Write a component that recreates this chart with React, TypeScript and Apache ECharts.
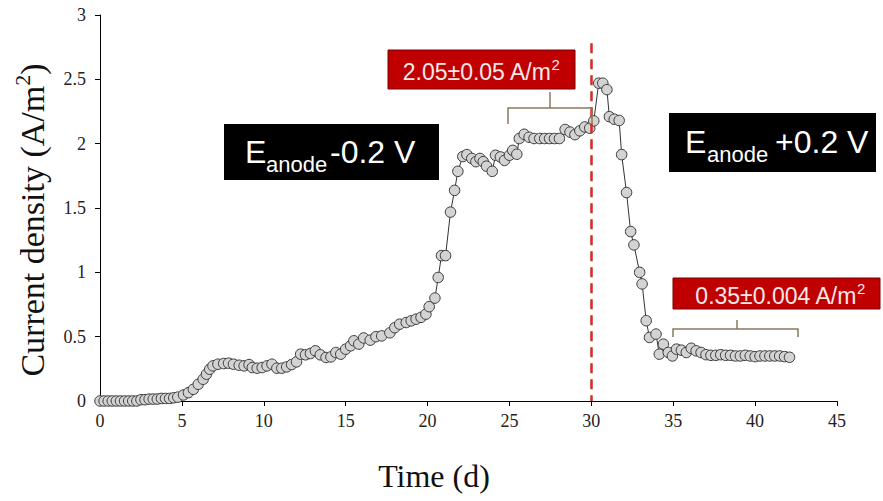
import React, { useEffect, useRef } from "react";
import * as echarts from "echarts";

const timeDays: number[] = [
  0, 0.25, 0.5, 0.75, 1, 1.25, 1.5, 1.75, 2, 2.25, 2.5, 2.75, 3, 3.25, 3.5, 3.75, 4, 4.25, 4.5, 4.75,
  5.1, 5.4, 5.7, 6.0, 6.3, 6.5, 6.7, 6.9, 7.2, 7.55, 7.85, 8.15, 8.5, 8.8, 9.1, 9.3, 9.6, 9.9, 10.2, 10.5,
  10.8, 11.1, 11.4, 11.7, 12.0, 12.25, 12.55, 12.85, 13.15, 13.45, 13.8, 14.1, 14.4, 14.7, 15.0, 15.3, 15.5, 15.8, 16.1, 16.5,
  16.85, 17.2, 17.7, 18.0, 18.3, 18.7, 19.0, 19.3, 19.6, 19.9, 20.1, 20.45, 20.65, 20.85, 21.1, 21.4, 21.65, 21.85, 22.15, 22.4,
  22.7, 22.95, 23.2, 23.4, 23.6, 23.95, 24.15, 24.45, 24.7, 25.0, 25.2, 25.45, 25.6, 25.9, 26.2, 26.5, 26.85, 27.15, 27.45, 27.75,
  28.05, 28.4, 28.7, 29.0, 29.3, 29.6, 29.9, 30.15, 30.45, 30.7, 30.95, 31.1, 31.4, 31.7, 31.85, 32.15, 32.4, 32.6, 32.95, 33.1,
  33.35, 33.55, 33.95, 34.15, 34.4, 34.7, 34.95, 35.2, 35.5, 35.8, 36.1, 36.4, 36.7, 37.0, 37.3, 37.6, 37.9, 38.2, 38.5, 38.8,
  39.1, 39.4, 39.7, 40.0, 40.3, 40.6, 40.9, 41.2, 41.5, 41.8, 42.1,
];

const currentDensity: number[] = [
  0, 0, 0, 0, 0, 0, 0, 0, 0, 0, 0.01, 0.01, 0.015, 0.015, 0.015, 0.02, 0.02, 0.02, 0.025, 0.03,
  0.047, 0.065, 0.091, 0.13, 0.169, 0.208, 0.247, 0.273, 0.286, 0.291, 0.294, 0.286, 0.278, 0.273, 0.283, 0.26, 0.255, 0.26, 0.273, 0.286,
  0.255, 0.255, 0.265, 0.283, 0.304, 0.364, 0.359, 0.369, 0.39, 0.359, 0.338, 0.343, 0.377, 0.364, 0.403, 0.429, 0.468, 0.442, 0.49, 0.473,
  0.5, 0.506, 0.53, 0.57, 0.597, 0.61, 0.623, 0.636, 0.65, 0.675, 0.733, 0.8, 0.96, 1.13, 1.13, 1.468, 1.637, 1.785, 1.9, 1.915,
  1.885, 1.86, 1.885, 1.86, 1.825, 1.785, 1.91, 1.897, 1.87, 1.91, 1.948, 1.918, 2.04, 2.073, 2.05, 2.04, 2.04, 2.04, 2.04, 2.04,
  2.04, 2.11, 2.09, 2.07, 2.1, 2.13, 2.12, 2.177, 2.47, 2.47, 2.42, 2.21, 2.19, 2.18, 1.915, 1.62, 1.317, 1.213, 1.0, 0.91,
  0.624, 0.494, 0.52, 0.364, 0.442, 0.377, 0.35, 0.403, 0.395, 0.377, 0.41, 0.39, 0.377, 0.36, 0.355, 0.355, 0.36, 0.355, 0.355, 0.35,
  0.35, 0.355, 0.35, 0.345, 0.35, 0.35, 0.35, 0.35, 0.35, 0.345, 0.34,
];

const xTicks = { min: 0, max: 45, interval: 5 };
const yTicks = { min: 0, max: 3, interval: 0.5 };
const switchDay = 30;
const switchLineTop = 2.78;

const axisTitleX = "Time (d)";
const axisTitleYMain = "Current density (A/m";
const meanBefore = "2.05±0.05 A/m";
const meanAfter = "0.35±0.004 A/m";

export default function App() {
  const ref = useRef<HTMLDivElement>(null);

  useEffect(() => {
    if (!ref.current) return;
    const chart = echarts.init(ref.current, undefined, { renderer: "svg" });
    const data = timeDays.map((t, i) => [t, currentDensity[i]]);
    const serif = "'Liberation Serif', 'Times New Roman', serif";
    const sans = "'Liberation Sans', Arial, sans-serif";
    const bracketColor = "#8a7a5c";
    const boxTextColor = "#f6e8e8";

    const boxRich = {
      a: { fontFamily: sans, fontSize: 23, lineHeight: 26, fill: boxTextColor, color: boxTextColor, verticalAlign: "bottom" },
      s: { fontFamily: sans, fontSize: 15, lineHeight: 26, fill: boxTextColor, color: boxTextColor, verticalAlign: "top" },
    };

    chart.setOption({
      animation: false,
      backgroundColor: "#ffffff",
      grid: { left: 100, right: 46, top: 15, bottom: 100, containLabel: false },
      xAxis: {
        type: "value",
        min: xTicks.min,
        max: xTicks.max,
        interval: xTicks.interval,
        axisLine: { show: true, lineStyle: { color: "#000", width: 1 } },
        axisTick: { show: true, inside: false, length: 5, lineStyle: { color: "#000" } },
        axisLabel: { color: "#222", fontFamily: serif, fontSize: 18, margin: 11 },
        splitLine: { show: false },
      },
      yAxis: {
        type: "value",
        min: yTicks.min,
        max: yTicks.max,
        interval: yTicks.interval,
        axisLine: { show: true, lineStyle: { color: "#000", width: 1 } },
        axisTick: { show: true, inside: false, length: 5, lineStyle: { color: "#000" } },
        axisLabel: { color: "#222", fontFamily: serif, fontSize: 18, margin: 14 },
        splitLine: { show: false },
      },
      series: [
        {
          type: "line",
          data,
          symbol: "circle",
          symbolSize: 10.5,
          showAllSymbol: true,
          lineStyle: { color: "#333", width: 1 },
          itemStyle: { color: "#d3d3d3", borderColor: "#3a3a3a", borderWidth: 1 },
          markLine: {
            silent: true,
            symbol: ["none", "none"],
            label: { show: false },
            lineStyle: { color: "#d42a2a", type: [10, 6], width: 2.5 },
            data: [[{ coord: [switchDay, switchLineTop] }, { coord: [switchDay, 0] }]],
          },
          z: 3,
        },
      ],
      graphic: [
        // axis titles
        {
          type: "text",
          x: 30,
          y: 220,
          rotation: Math.PI / 2,
          style: {
            text: "{a|" + axisTitleYMain + "}{s|2}{a|)}",
            align: "center",
            verticalAlign: "middle",
            rich: {
              a: { fontFamily: serif, fontSize: 34, lineHeight: 38, fill: "#111", color: "#111", verticalAlign: "bottom" },
              s: { fontFamily: serif, fontSize: 22, lineHeight: 38, fill: "#111", color: "#111", verticalAlign: "top" },
            },
          },
        },
        {
          type: "text",
          x: 434,
          y: 476,
          style: {
            text: axisTitleX,
            fontFamily: serif,
            fontSize: 32,
            fill: "#111",
            align: "center",
            verticalAlign: "middle",
          },
        },
        // black box left
        { type: "rect", shape: { x: 224, y: 124, width: 215, height: 56 }, style: { fill: "#000" }, z: 10 },
        { type: "text", x: 245, y: 152, style: { text: "E", fontFamily: sans, fontSize: 32, fill: "#fff", verticalAlign: "middle" }, z: 11 },
        { type: "text", x: 266, y: 164, style: { text: "anode", fontFamily: sans, fontSize: 22, fill: "#fff", verticalAlign: "middle" }, z: 11 },
        { type: "text", x: 330, y: 152, style: { text: "-0.2 V", fontFamily: sans, fontSize: 32, fill: "#fff", verticalAlign: "middle" }, z: 11 },
        // black box right
        { type: "rect", shape: { x: 669, y: 113, width: 207, height: 59 }, style: { fill: "#000" }, z: 10 },
        { type: "text", x: 685, y: 142, style: { text: "E", fontFamily: sans, fontSize: 32, fill: "#fff", verticalAlign: "middle" }, z: 11 },
        { type: "text", x: 707, y: 154, style: { text: "anode", fontFamily: sans, fontSize: 22, fill: "#fff", verticalAlign: "middle" }, z: 11 },
        { type: "text", x: 775, y: 142, style: { text: "+0.2 V", fontFamily: sans, fontSize: 32, fill: "#fff", verticalAlign: "middle" }, z: 11 },
        // red box top
        { type: "rect", shape: { x: 388, y: 50, width: 187, height: 39 }, style: { fill: "#c00000", stroke: "#7a0000", lineWidth: 1 }, z: 10 },
        { type: "text", x: 481, y: 70, style: { text: "{a|" + meanBefore + "}{s|2}", align: "center", verticalAlign: "middle", rich: boxRich }, z: 11 },
        // bracket top
        { type: "polyline", shape: { points: [[508, 124], [508, 108], [592, 108], [592, 124]] }, style: { stroke: bracketColor, lineWidth: 1.5, fill: "none" }, z: 9 },
        { type: "line", shape: { x1: 550, y1: 92, x2: 550, y2: 108 }, style: { stroke: bracketColor, lineWidth: 1.5 }, z: 9 },
        // red box bottom
        { type: "rect", shape: { x: 673, y: 278, width: 207, height: 31 }, style: { fill: "#c00000", stroke: "#7a0000", lineWidth: 1 }, z: 10 },
        { type: "text", x: 780, y: 294, style: { text: "{a|" + meanAfter + "}{s|2}", align: "center", verticalAlign: "middle", rich: boxRich }, z: 11 },
        // bracket bottom
        { type: "polyline", shape: { points: [[673, 337], [673, 329], [798, 329], [798, 337]] }, style: { stroke: bracketColor, lineWidth: 1.5, fill: "none" }, z: 9 },
        { type: "line", shape: { x1: 737, y1: 320, x2: 737, y2: 329 }, style: { stroke: bracketColor, lineWidth: 1.5 }, z: 9 },
      ],
    });

    return () => chart.dispose();
  }, []);

  return (
    <div
      ref={ref}
      style={{ position: "absolute", left: 0, top: 0, width: 883, height: 501, background: "#fff" }}
    />
  );
}
